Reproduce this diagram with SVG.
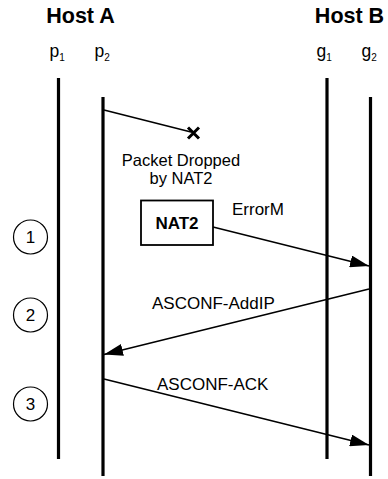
<svg xmlns="http://www.w3.org/2000/svg" width="388" height="479" viewBox="0 0 388 479">
  <style>
    text { font-family: "Liberation Sans", Arial, sans-serif; fill: #000; }
    .host { font-size: 21.5px; font-weight: bold; }
    .addr { font-size: 17.5px; }
    .sub { font-size: 10px; }
    .lbl { font-size: 17px; }
    .note { font-size: 16.5px; }
    .bold { font-weight: bold; }
    .life { stroke: #000; stroke-width: 3.2; fill: none; }
    .msg { stroke: #000; stroke-width: 1.6; fill: none; }
    .step { fill: #fff; stroke: #000; stroke-width: 1.2; }
  </style>
  <defs>
    <marker id="arrow" markerUnits="userSpaceOnUse" markerWidth="20" markerHeight="12" refX="19" refY="6" orient="auto">
      <path d="M0,0 L19,6 L0,12 Z" fill="#000"/>
    </marker>
  </defs>

  <rect width="388" height="479" fill="#fff"/>

  <!-- Host headers -->
  <g id="hostA">
    <text class="host" x="80.5" y="23.3" text-anchor="middle">Host A</text>
  </g>
  <g id="hostB">
    <text class="host" x="349.5" y="23.3" text-anchor="middle">Host B</text>
  </g>

  <!-- Lifelines -->
  <g id="p1">
    <text class="addr" x="49.5" y="57">p<tspan class="sub" dy="4">1</tspan></text>
    <line class="life" x1="58.5" y1="78" x2="58.5" y2="459"/>
  </g>
  <g id="p2">
    <text class="addr" x="94.5" y="57">p<tspan class="sub" dy="4">2</tspan></text>
    <line class="life" x1="103" y1="97" x2="103" y2="476"/>
  </g>
  <g id="g1">
    <text class="addr" x="316.5" y="57">g<tspan class="sub" dy="4">1</tspan></text>
    <line class="life" x1="327" y1="78" x2="327" y2="459"/>
  </g>
  <g id="g2">
    <text class="addr" x="361.5" y="57">g<tspan class="sub" dy="4">2</tspan></text>
    <line class="life" x1="370.5" y1="97" x2="370.5" y2="476"/>
  </g>

  <!-- NAT box -->
  <g id="nat2">
    <rect x="141" y="200.5" width="72" height="44.5" fill="#fff" stroke="#000" stroke-width="1.8"/>
    <text class="lbl bold" x="177" y="229.3" text-anchor="middle">NAT2</text>
  </g>

  <!-- Step markers -->
  <g id="step1">
    <circle class="step" cx="30.5" cy="237" r="17"/>
    <text class="lbl" x="30.5" y="243" text-anchor="middle">1</text>
  </g>
  <g id="step2">
    <circle class="step" cx="30.5" cy="315" r="17"/>
    <text class="lbl" x="30.5" y="321" text-anchor="middle">2</text>
  </g>
  <g id="step3">
    <circle class="step" cx="30.5" cy="404" r="17"/>
    <text class="lbl" x="30.5" y="410" text-anchor="middle">3</text>
  </g>

  <!-- Messages -->
  <g id="connectors">
    <line class="msg" x1="104" y1="110" x2="191" y2="132"/>
    <path d="M188,127.5 L199,138.5 M199,127.5 L188,138.5" stroke="#000" stroke-width="3" fill="none"/>
    <line class="msg" x1="213" y1="227" x2="369" y2="266" marker-end="url(#arrow)"/>
    <line class="msg" x1="369" y1="289" x2="104" y2="354.5" marker-end="url(#arrow)"/>
    <line class="msg" x1="104" y1="379" x2="369" y2="445" marker-end="url(#arrow)"/>
  </g>

  <!-- Message labels -->
  <g id="labels">
    <text class="note" x="181" y="165.8" text-anchor="middle">Packet Dropped</text>
    <text class="note" x="181" y="184.3" text-anchor="middle">by NAT2</text>
    <text class="lbl" x="232" y="215">ErrorM</text>
    <text class="lbl" x="152" y="309">ASCONF-AddIP</text>
    <text class="lbl" x="157" y="390">ASCONF-ACK</text>
  </g>
</svg>
